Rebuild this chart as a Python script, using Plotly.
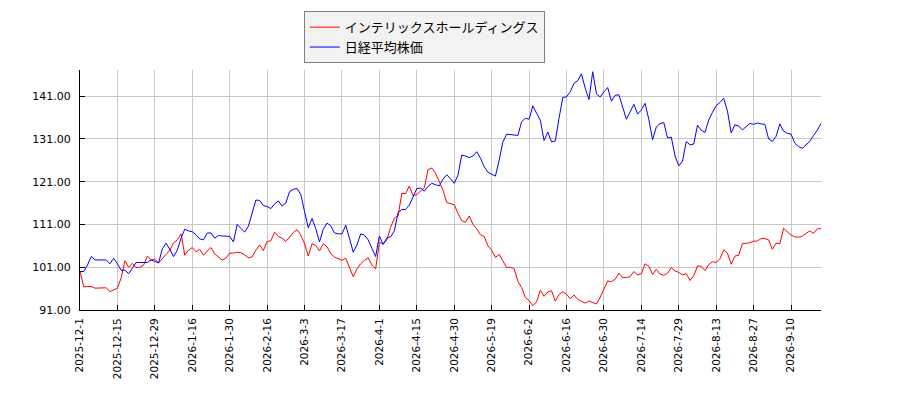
import plotly.graph_objects as go

tick_labels = ["2025-12-1", "2025-12-15", "2025-12-29", "2026-1-16", "2026-1-30",
               "2026-2-16", "2026-3-3", "2026-3-17", "2026-4-1", "2026-4-15",
               "2026-4-30", "2026-5-19", "2026-6-2", "2026-6-16", "2026-6-30",
               "2026-7-14", "2026-7-29", "2026-8-13", "2026-8-27", "2026-9-10"]

intellex = [
    100.0, 96.4, 96.5, 96.5, 96.1, 96.1, 96.1, 96.2, 95.3, 95.8,
    96.1, 98.5, 102.5, 101.0, 101.9, 100.9, 101.0, 101.5, 103.6, 102.7,
    102.9, 102.0, 102.9, 104.0, 105.0, 106.7, 107.4, 108.8, 103.8, 105.0,
    105.6, 104.6, 105.2, 103.8, 104.8, 105.6, 104.1, 103.3, 102.7, 103.1,
    104.3, 104.3, 104.5, 104.4, 103.9, 103.2, 103.4, 105.0, 106.2, 104.9,
    107.0, 107.2, 109.2, 108.2, 107.8, 107.0, 108.1, 109.1, 109.8, 108.5,
    106.5, 103.6, 106.5, 106.1, 104.8, 106.5, 105.8, 104.2, 103.4, 102.9,
    102.6, 103.1, 101.0, 98.8, 100.6, 101.8, 102.6, 103.2, 101.5, 100.6,
    106.8, 106.5, 107.4, 110.3, 112.5, 113.0, 118.3, 118.2, 120.0, 117.7,
    118.0, 118.9, 119.6, 123.8, 124.2, 123.0, 120.8, 119.0, 116.1, 115.9,
    115.6, 113.6, 111.9, 111.5, 113.0, 111.0, 110.0, 108.6, 108.2, 106.0,
    105.0, 103.3, 104.0, 102.5, 100.9, 101.0, 100.7, 97.7, 96.3, 93.9,
    93.2, 92.0, 92.9, 95.6, 94.2, 95.2, 95.5, 93.1, 94.6, 95.3,
    94.7, 93.6, 94.5, 93.5, 93.0, 92.6, 93.1, 92.8, 92.4, 94.0,
    96.1, 97.8, 97.6, 98.2, 99.6, 98.6, 98.6, 98.8, 100.0, 99.2,
    99.5, 101.8, 101.2, 99.3, 100.5, 99.4, 99.1, 99.6, 100.9, 100.1,
    99.8, 99.2, 99.5, 97.9, 99.0, 101.3, 101.2, 100.2, 101.6, 102.3,
    102.1, 103.0, 105.1, 104.3, 101.7, 103.6, 103.8, 106.5, 106.6, 106.7,
    107.1, 107.1, 107.7, 107.7, 107.4, 105.2, 106.6, 106.5, 110.1, 109.3,
    108.5, 108.1, 108.0, 108.3, 109.0, 109.5, 108.9, 110.0, 110.0]

nikkei = [
    100.0, 100.0, 101.5, 103.5, 102.7, 102.7, 102.7, 102.7, 101.8, 103.1,
    101.8, 100.3, 100.3, 99.5, 100.8, 102.1, 102.1, 102.1, 102.1, 102.7,
    102.4, 102.0, 105.3, 106.6, 105.2, 103.5, 105.0, 107.8, 109.9, 109.5,
    109.3, 108.6, 107.6, 107.4, 109.0, 109.0, 107.8, 108.4, 108.3, 108.3,
    108.2, 106.9, 111.0, 110.1, 109.2, 110.6, 114.0, 116.7, 116.6, 115.4,
    115.2, 114.7, 115.8, 116.5, 115.3, 116.0, 118.7, 119.2, 119.4, 118.0,
    114.0, 110.2, 112.4, 110.0, 106.9, 109.9, 111.3, 110.7, 109.0, 108.8,
    108.8, 110.8, 107.8, 104.5, 106.2, 108.8, 108.5, 107.4, 105.4, 103.5,
    108.3, 106.3, 107.9, 108.1, 109.5, 113.8, 114.5, 114.5, 115.5, 117.4,
    119.4, 119.5, 118.8, 119.9, 120.6, 120.3, 120.0, 121.6, 122.6, 121.7,
    120.6, 122.5, 127.2, 127.0, 126.6, 127.0, 128.0, 126.5, 124.5, 123.2,
    122.8, 122.3, 126.0, 130.3, 132.1, 132.0, 132.0, 131.8, 135.0, 135.8,
    135.6, 138.7, 137.0, 135.4, 130.6, 132.6, 130.3, 130.5, 135.8, 140.7,
    140.8, 142.0, 144.0, 144.6, 146.2, 142.8, 140.2, 146.7, 141.5, 140.8,
    142.0, 143.0, 139.8, 141.2, 141.3, 138.5, 135.6, 137.3, 139.1, 136.8,
    137.8, 139.3, 135.5, 130.8, 133.8, 134.6, 134.8, 131.2, 131.4, 127.0,
    124.7, 125.8, 130.4, 129.6, 129.8, 134.2, 133.0, 132.5, 135.4, 137.2,
    138.8, 139.5, 140.5, 137.5, 132.4, 134.3, 134.0, 133.1, 133.8, 134.6,
    134.4, 134.7, 134.5, 134.4, 131.0, 130.4, 131.6, 134.5, 132.8, 132.3,
    132.1, 130.0, 129.2, 128.8, 129.6, 130.4, 131.8, 133.0, 134.6]

y_ticks = [91, 101, 111, 121, 131, 141]

n = len(nikkei)
xs = list(range(n))

fig = go.Figure()
fig.add_trace(go.Scatter(x=xs, y=intellex, mode="lines", name="インテリックスホールディングス",
                         line=dict(color="#ff0000", width=1)))
fig.add_trace(go.Scatter(x=xs, y=nikkei, mode="lines", name="日経平均株価",
                         line=dict(color="#0000ff", width=1)))

fig.update_layout(
    width=900, height=400,
    margin=dict(l=72, r=87, t=62, b=98, autoexpand=False),
    paper_bgcolor="#ffffff", plot_bgcolor="#ffffff",
    showlegend=True,
    legend=dict(x=0.302, y=1.245, xanchor="left", yanchor="top",
                bgcolor="#f2f2f2", bordercolor="#808080", borderwidth=1,
                font=dict(family="Noto Sans CJK JP", size=13, color="#000000"),
                itemwidth=30, tracegroupgap=0),
    xaxis=dict(range=[0, n - 1], tickmode="array",
               tickvals=[10 * k for k in range(len(tick_labels))],
               ticktext=tick_labels, tickangle=-90,
               tickfont=dict(family="DejaVu Sans", size=10.5, color="#000000"),
               showgrid=True, gridcolor="#c8c8c8", gridwidth=1,
               showline=True, linecolor="#000000", linewidth=1,
               ticks="inside", ticklen=5, tickcolor="#000000",
               ticklabelstandoff=3, zeroline=False, mirror=False),
    yaxis=dict(range=[91, 147.1], tickmode="array", tickvals=y_ticks,
               ticktext=[f"{v:.2f}" for v in y_ticks],
               tickfont=dict(family="DejaVu Sans", size=11, color="#000000"),
               showgrid=True, gridcolor="#c8c8c8", gridwidth=1,
               showline=True, linecolor="#000000", linewidth=1,
               ticks="inside", ticklen=5, tickcolor="#000000",
               ticklabelstandoff=6, zeroline=False, mirror=False),
)

fig.write_html("out.html")
